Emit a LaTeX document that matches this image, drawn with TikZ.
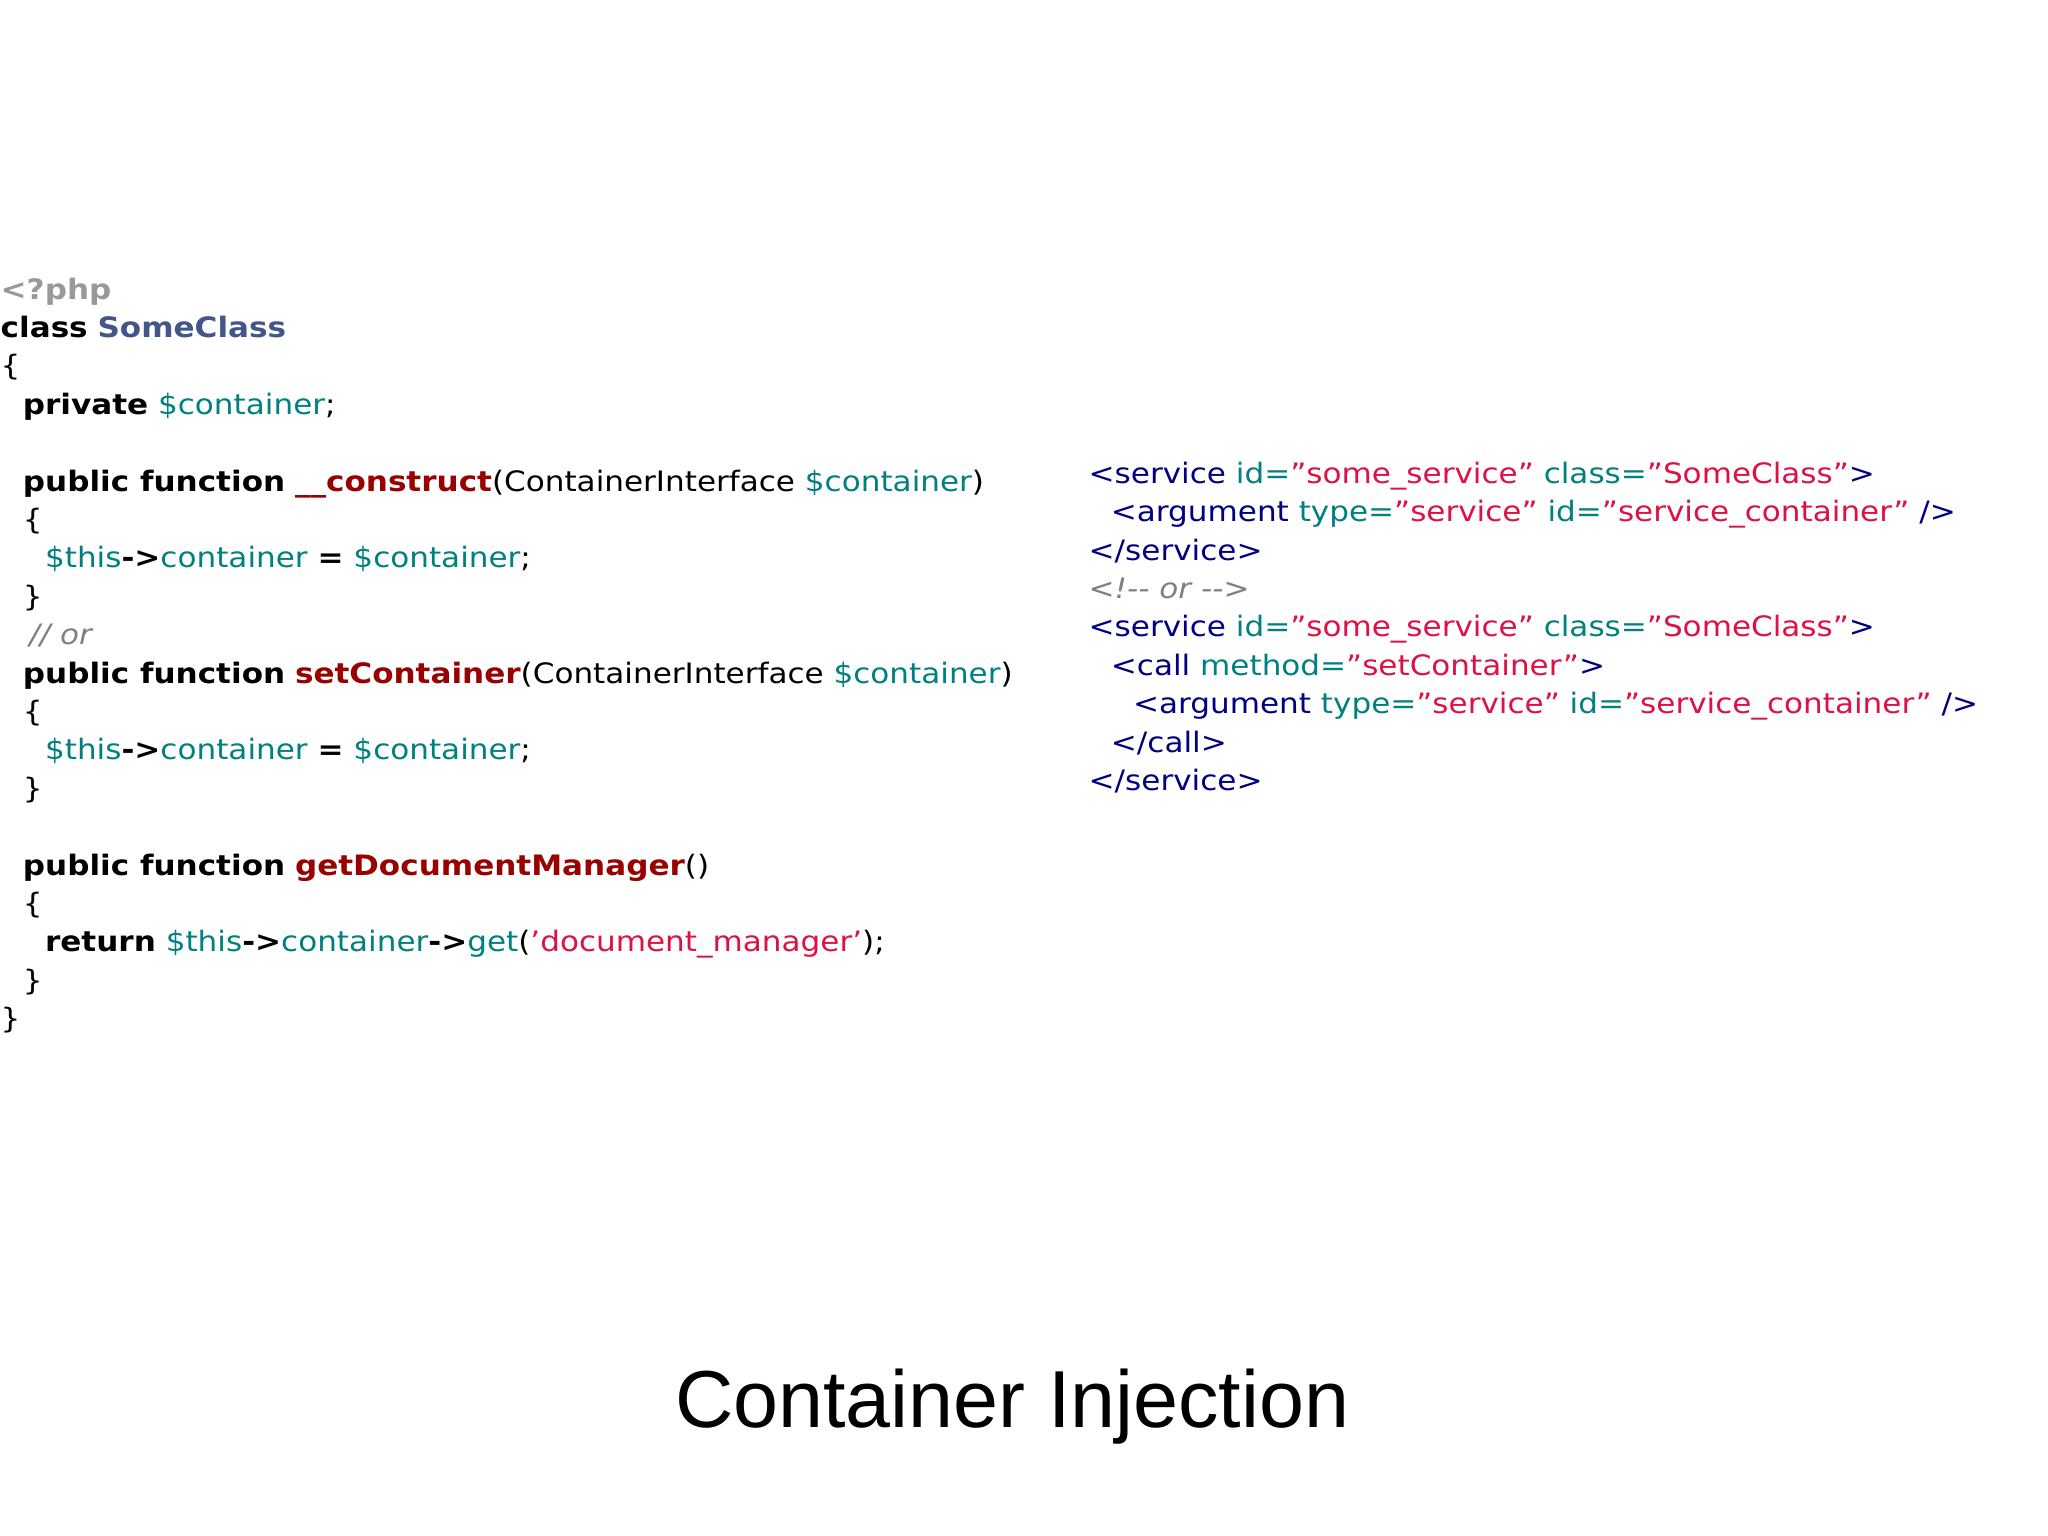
\documentclass[tikz,border=0pt]{standalone}
\usepackage{fontspec}
\setmainfont[FakeStretch=1.105]{DejaVu Sans}
\newfontfamily\titlefont{Liberation Sans}
\definecolor{tl}{RGB}{0,128,128}
\definecolor{fnc}{RGB}{153,0,0}
\definecolor{cls}{RGB}{68,85,136}
\definecolor{tag}{RGB}{0,0,128}
\definecolor{val}{RGB}{221,17,68}
\newcommand{\kw}[1]{\textbf{#1}}
\newcommand{\vr}[1]{\textcolor{tl}{#1}}
\newcommand{\fn}[1]{\textcolor{fnc}{\textbf{#1}}}
\newcommand{\vl}[1]{\textcolor{val}{#1}}
\newcommand{\tg}[1]{\textcolor{tag}{#1}}
\newcommand{\q}{\symbol{34}}
\newcommand{\sq}{\symbol{39}}
\begin{document}
\begin{tikzpicture}[x=0.01306cm,y=-0.01306cm,
  ln/.style={anchor=base west,inner sep=0pt,font=\fontsize{8}{10}\selectfont}]
\useasboundingbox (0,0) rectangle (1568,1176);
\fill[white] (0,0) rectangle (1568,1176);
\def\L{29.4}
\node[ln] (l0) at (0,229+0*\L) {\textcolor{gray!80}{\textbf{<?php}}};
\node[ln] (l1) at (0,229+1*\L) {\kw{class} \textcolor{cls}{\textbf{SomeClass}}};
\node[ln] (l2) at (0,229+2*\L) {\{};
\node[ln] (l3) at (17,229+3*\L) {\kw{private} \vr{\$container};};
\node[ln] (l5) at (17,229+5*\L) {\kw{public function} \fn{\_\_construct}(ContainerInterface \vr{\$container})};
\node[ln] (l6) at (17,229+6*\L) {\{};
\node[ln] (l7) at (34,229+7*\L) {\vr{\$this}\kw{->}\vr{container} \kw{=} \vr{\$container};};
\node[ln] (l8) at (17,229+8*\L) {\}};
\node[ln] (l9) at (22,229+9*\L) {\textcolor{gray}{\itshape // or}};
\node[ln] (l10) at (17,229+10*\L) {\kw{public function} \fn{setContainer}(ContainerInterface \vr{\$container})};
\node[ln] (l11) at (17,229+11*\L) {\{};
\node[ln] (l12) at (34,229+12*\L) {\vr{\$this}\kw{->}\vr{container} \kw{=} \vr{\$container};};
\node[ln] (l13) at (17,229+13*\L) {\}};
\node[ln] (l15) at (17,229+15*\L) {\kw{public function} \fn{getDocumentManager}()};
\node[ln] (l16) at (17,229+16*\L) {\{};
\node[ln] (l17) at (34,229+17*\L) {\kw{return} \vr{\$this}\kw{->}\vr{container}\kw{->}\vr{get}(\vl{\sq document\_manager\sq});};
\node[ln] (l18) at (17,229+18*\L) {\}};
\node[ln] (l19) at (0,229+19*\L) {\}};
\def\R{370}
\node[ln] (r0) at (833,\R+0*\L) {\tg{<service} \vr{id=}\vl{\q some\_service\q} \vr{class=}\vl{\q SomeClass\q}\tg{>}};
\node[ln] (r1) at (850,\R+1*\L) {\tg{<argument} \vr{type=}\vl{\q service\q} \vr{id=}\vl{\q service\_container\q} \tg{/>}};
\node[ln] (r2) at (833,\R+2*\L) {\tg{</service>}};
\node[ln] (r3) at (833,\R+3*\L) {\textcolor{gray}{\itshape <!-{}- or -{}->}};
\node[ln] (r4) at (833,\R+4*\L) {\tg{<service} \vr{id=}\vl{\q some\_service\q} \vr{class=}\vl{\q SomeClass\q}\tg{>}};
\node[ln] (r5) at (850,\R+5*\L) {\tg{<call} \vr{method=}\vl{\q setContainer\q}\tg{>}};
\node[ln] (r6) at (867,\R+6*\L) {\tg{<argument} \vr{type=}\vl{\q service\q} \vr{id=}\vl{\q service\_container\q} \tg{/>}};
\node[ln] (r7) at (850,\R+7*\L) {\tg{</call>}};
\node[ln] (r8) at (833,\R+8*\L) {\tg{</service>}};
\node[anchor=base,inner sep=0pt,font=\titlefont\fontsize{23}{26}\selectfont] (title) at (775,1093) {Container Injection};
\end{tikzpicture}
\end{document}
